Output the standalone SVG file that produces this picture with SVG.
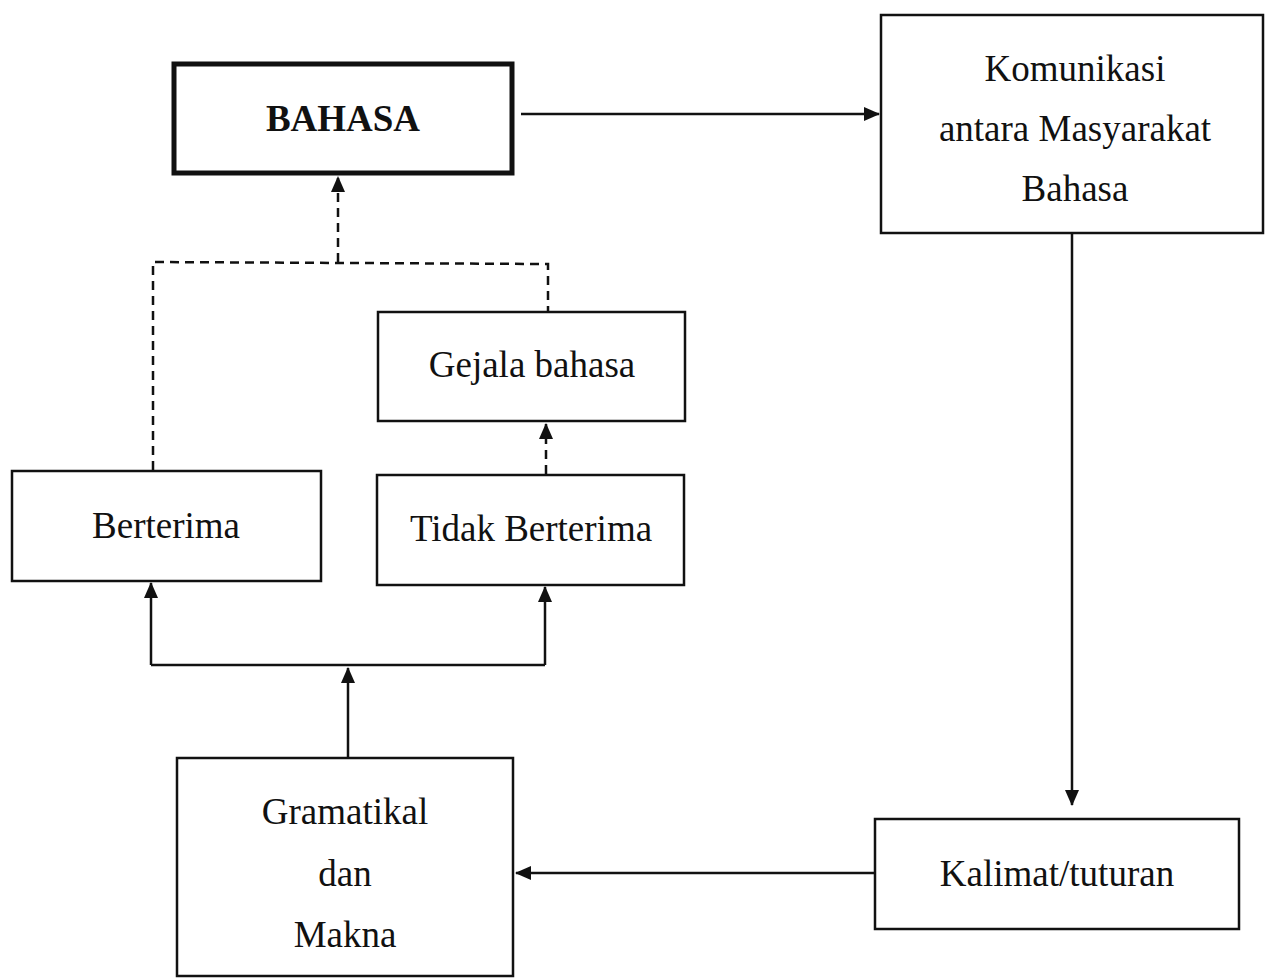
<svg xmlns="http://www.w3.org/2000/svg" width="1266" height="979" viewBox="0 0 1266 979">
<style>
.box{fill:#fff;stroke:#111;stroke-width:2.5}
.thick{stroke-width:5}
text{font-family:"Liberation Serif","Times New Roman",serif;font-size:37px;fill:#111;text-anchor:middle}
.b{font-weight:bold;font-size:37px}
.ln{fill:none;stroke:#111;stroke-width:2.5}
.dash{stroke-dasharray:9 6}
</style>
<defs>
<marker id="ah" markerWidth="16" markerHeight="14" refX="15" refY="7" orient="auto" markerUnits="userSpaceOnUse">
<path d="M0,0 L16,7 L0,14 Z" fill="#111"/>
</marker>
</defs>
<rect width="1266" height="979" fill="#fff"/>
<g id="connectors">
<line class="ln" x1="521" y1="114" x2="879" y2="114" marker-end="url(#ah)"/>
<line class="ln" x1="1072" y1="234" x2="1072" y2="805" marker-end="url(#ah)"/>
<line class="ln" x1="874" y1="873" x2="516" y2="873" marker-end="url(#ah)"/>
<line class="ln" x1="348" y1="757" x2="348" y2="668" marker-end="url(#ah)"/>
<polyline class="ln" points="151,665 545,665"/>
<line class="ln" x1="151" y1="665" x2="151" y2="583" marker-end="url(#ah)"/>
<line class="ln" x1="545" y1="665" x2="545" y2="587" marker-end="url(#ah)"/>
<polyline class="ln dash" points="153,470 153,262 548,264 548,311"/>
<line class="ln dash" x1="338" y1="262" x2="338" y2="177" marker-end="url(#ah)"/>
<line class="ln dash" x1="546" y1="474" x2="546" y2="424" marker-end="url(#ah)"/>
</g>
<g id="bahasa">
<rect class="box thick" x="174" y="64" width="338" height="109"/>
<text class="b" x="343" y="131">BAHASA</text>
</g>
<g id="komunikasi">
<rect class="box" x="881" y="15" width="382" height="218"/>
<text x="1075" y="81">Komunikasi</text>
<text x="1075" y="141">antara Masyarakat</text>
<text x="1075" y="201">Bahasa</text>
</g>
<g id="gejala">
<rect class="box" x="378" y="312" width="307" height="109"/>
<text x="532" y="377">Gejala bahasa</text>
</g>
<g id="berterima">
<rect class="box" x="12" y="471" width="309" height="110"/>
<text x="166" y="538">Berterima</text>
</g>
<g id="tidak">
<rect class="box" x="377" y="475" width="307" height="110"/>
<text x="531" y="541">Tidak Berterima</text>
</g>
<g id="gramatikal">
<rect class="box" x="177" y="758" width="336" height="218"/>
<text x="345" y="824">Gramatikal</text>
<text x="345" y="886">dan</text>
<text x="345" y="947">Makna</text>
</g>
<g id="kalimat">
<rect class="box" x="875" y="819" width="364" height="110"/>
<text x="1057" y="886">Kalimat/tuturan</text>
</g>
</svg>
